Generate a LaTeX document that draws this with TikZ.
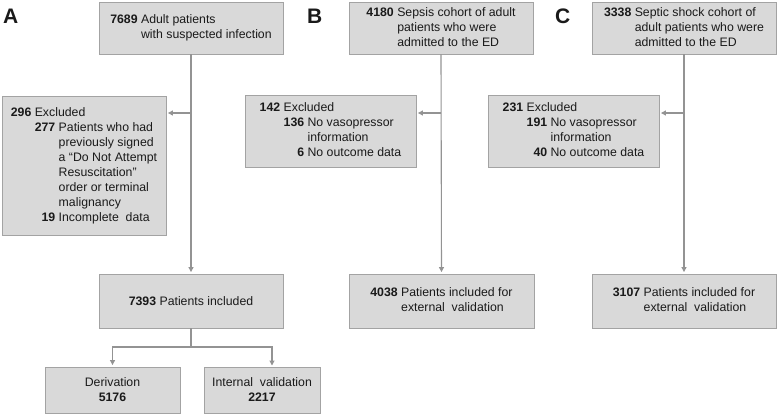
\documentclass[tikz,border=0pt]{standalone}
\usepackage{fontspec}
\setmainfont{Liberation Sans}
\usetikzlibrary{arrows.meta}
\definecolor{boxfill}{HTML}{D9D9D9}
\definecolor{boxline}{HTML}{A3A3A3}
\definecolor{conn}{HTML}{939393}
\definecolor{txt}{HTML}{1A1A1A}
\tikzset{
  fbox/.style={draw=boxline, fill=boxfill, line width=0.9pt, inner sep=0pt,
    text=txt, font={\fontsize{12.3}{15}\selectfont}, align=center},
  conline/.style={draw=conn, line width=1.1pt},
  conarrow/.style={conline, -{Triangle[width=5pt,length=5pt]}, shorten >=1.5pt},
  panel/.style={anchor=base west, inner sep=0pt, font={\fontsize{21}{21}\selectfont\bfseries}, text=txt}
}
\begin{document}
\begin{tikzpicture}[x=1pt,y=-1pt]
\useasboundingbox (0,0) rectangle (777,416);
% panel labels
\node[panel] (lA) at (3,23) {A};
\node[panel] (lB) at (307,23) {B};
\node[panel] (lC) at (555,23) {C};
% Panel A
\node[fbox, minimum width=184pt, minimum height=52pt] (a1) at (191,28)
  {\begin{tabular}{@{}l@{\ }l@{}}\textbf{7689} & Adult patients\\ & with suspected infection\end{tabular}};
\node[fbox, minimum width=164pt, minimum height=139pt] (a2) at (84,165.5)
  {\begin{tabular}{@{}l@{\ }l@{}}\textbf{296} & Excluded\\
   & \begin{tabular}[t]{@{}r@{\ }l@{}}\textbf{277} & Patients who had\\
     & previously signed\\ & a “Do Not Attempt\\ & Resuscitation”\\
     & order or terminal\\ & malignancy\\ \textbf{19} & Incomplete\ \ data\end{tabular}
   \end{tabular}};
\node[fbox, minimum width=184pt, minimum height=54pt] (a3) at (191,301)
  {\textbf{7393} Patients included};
\node[fbox, minimum width=135pt, minimum height=46pt] (a4) at (112.5,390)
  {Derivation\\ \textbf{5176}};
\node[fbox, minimum width=116pt, minimum height=46pt] (a5) at (262,390)
  {Internal\ \ validation\\ \textbf{2217}};
\coordinate (ja) at (191,113);
\coordinate (sp) at (191,347);
\coordinate (a5in) at (272,367);
\draw[conarrow] (a1.south) -- (a3.north);
\draw[conarrow] (ja) -- (ja -| a2.east);
\draw[conline] (a3.south) -- (sp);
\draw[conarrow] (sp) -| (a4.north);
\draw[conarrow] (sp) -| (a5in);
% Panel B
\node[fbox, minimum width=184pt, minimum height=52pt] (b1) at (441,28)
  {\begin{tabular}{@{}l@{\ }l@{}}\textbf{4180} & Sepsis cohort of adult\\ & patients who were\\ & admitted to the ED\end{tabular}};
\node[fbox, minimum width=171pt, minimum height=72pt] (b2) at (330.5,131)
  {\begin{tabular}{@{}l@{\ }l@{}}\textbf{142} & Excluded\\
   & \begin{tabular}[t]{@{}r@{\ }l@{}}\textbf{136} & No vasopressor\\
     & information\\ \textbf{6} & No outcome data\end{tabular}
   \end{tabular}};
\node[fbox, minimum width=185pt, minimum height=54pt] (b3) at (441.5,301)
  {\begin{tabular}{@{}l@{\ }l@{}}\textbf{4038} & Patients included for\\ & external\ \ validation\end{tabular}};
\coordinate (jb) at (441,113);
\draw[conarrow] (b1.south) -- (b3.north);
\draw[conarrow] (jb) -- (jb -| b2.east);
% Panel C
\node[fbox, minimum width=184pt, minimum height=52pt] (c1) at (684,28)
  {\begin{tabular}{@{}l@{\ }l@{}}\textbf{3338} & Septic shock cohort of\\ & adult patients who were\\ & admitted to the ED\end{tabular}};
\node[fbox, minimum width=171pt, minimum height=72pt] (c2) at (573.5,131)
  {\begin{tabular}{@{}l@{\ }l@{}}\textbf{231} & Excluded\\
   & \begin{tabular}[t]{@{}r@{\ }l@{}}\textbf{191} & No vasopressor\\
     & information\\ \textbf{40} & No outcome data\end{tabular}
   \end{tabular}};
\node[fbox, minimum width=184pt, minimum height=54pt] (c3) at (684,301)
  {\begin{tabular}{@{}l@{\ }l@{}}\textbf{3107} & Patients included for\\ & external\ \ validation\end{tabular}};
\coordinate (jc) at (684,113);
\draw[conarrow] (c1.south) -- (c3.north);
\draw[conarrow] (jc) -- (jc -| c2.east);
\end{tikzpicture}
\end{document}
